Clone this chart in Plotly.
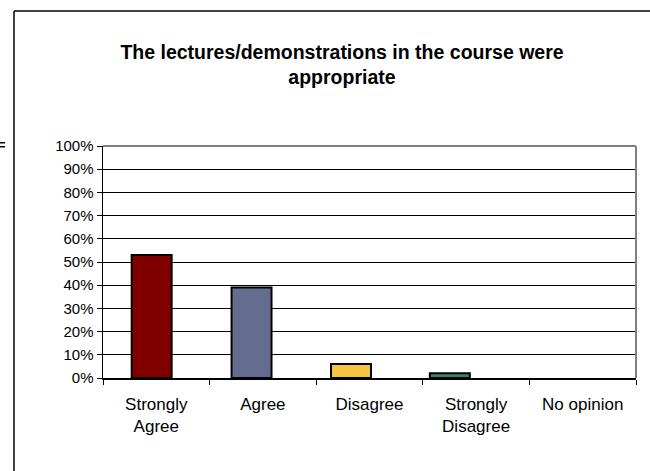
import plotly.graph_objects as go

categories = ["Strongly<br>Agree", "Agree", "Disagree", "Strongly<br>Disagree", "No opinion"]
values = [53, 39, 6, 2, 0]
colors = ["#800000", "#646D8F", "#F5C542", "#3E8070", "#CCCCCC"]
y_ticks = list(range(0, 101, 10))
y_tick_labels = [f"{v}%" for v in y_ticks]

fig = go.Figure()
fig.add_trace(go.Bar(
    x=categories,
    y=values,
    marker=dict(color=colors, line=dict(color="black", width=[2, 2, 2, 2, 0])),
    width=0.375,
    offset=[-0.231, -0.294, -0.361, -0.434, -0.5],
    hoverinfo="skip",
))

L, R, T, B = 103, 14, 146, 93
W, H = 650, 471
pw, ph = W - L - R, H - T - B

def px(x):
    return (x - L) / pw

def py(y):
    return (H - B - y) / ph

shapes = [
    # outer frame
    dict(type="line", xref="paper", yref="paper", x0=px(14), x1=px(651), y0=py(11), y1=py(11),
         line=dict(color="black", width=1.5)),
    dict(type="line", xref="paper", yref="paper", x0=px(14), x1=px(14), y0=py(11), y1=py(472),
         line=dict(color="black", width=1.5)),
    # plot area top/right border
    dict(type="line", xref="paper", yref="paper", x0=0, x1=1, y0=1, y1=1,
         line=dict(color="#808080", width=2)),
    dict(type="line", xref="paper", yref="paper", x0=1, x1=1, y0=0, y1=1,
         line=dict(color="#808080", width=2)),
    # small mark at left edge
    dict(type="rect", xref="paper", yref="paper", x0=px(0), x1=px(5), y0=py(142), y1=py(143.5),
         fillcolor="black", line=dict(width=0)),
    dict(type="rect", xref="paper", yref="paper", x0=px(0), x1=px(5), y0=py(146), y1=py(147.5),
         fillcolor="black", line=dict(width=0)),
]

fig.update_layout(
    width=W, height=H,
    margin=dict(l=L, r=R, t=T, b=B),
    paper_bgcolor="white", plot_bgcolor="white",
    showlegend=False,
    font=dict(family="Liberation Sans, Arial, sans-serif", color="black", size=14),
    title=dict(
        text="<b>The lectures/demonstrations in the course were<br>appropriate</b>",
        xref="container", yref="container",
        x=342 / W, xanchor="center", y=1 - 59 / H, yanchor="middle",
        font=dict(size=19.5, family="Liberation Sans, Arial, sans-serif", color="black"),
    ),
    xaxis=dict(
        showline=True, linecolor="black", linewidth=1.5,
        ticks="outside", ticklen=5, tickcolor="black", tickson="boundaries",
        showgrid=False, tickfont=dict(size=17), fixedrange=True,
        ticklabelstandoff=10,
    ),
    yaxis=dict(
        range=[0, 100], tickvals=y_ticks, ticktext=y_tick_labels,
        showline=True, linecolor="black", linewidth=1.5,
        ticks="outside", ticklen=5, tickcolor="black",
        showgrid=True, gridcolor="black", gridwidth=1,
        zeroline=False, tickfont=dict(size=15), fixedrange=True,
    ),
    shapes=shapes,
)

fig.write_html("out.html", post_script="document.body.style.margin='0';",
               config={"displayModeBar": False, "staticPlot": True})
